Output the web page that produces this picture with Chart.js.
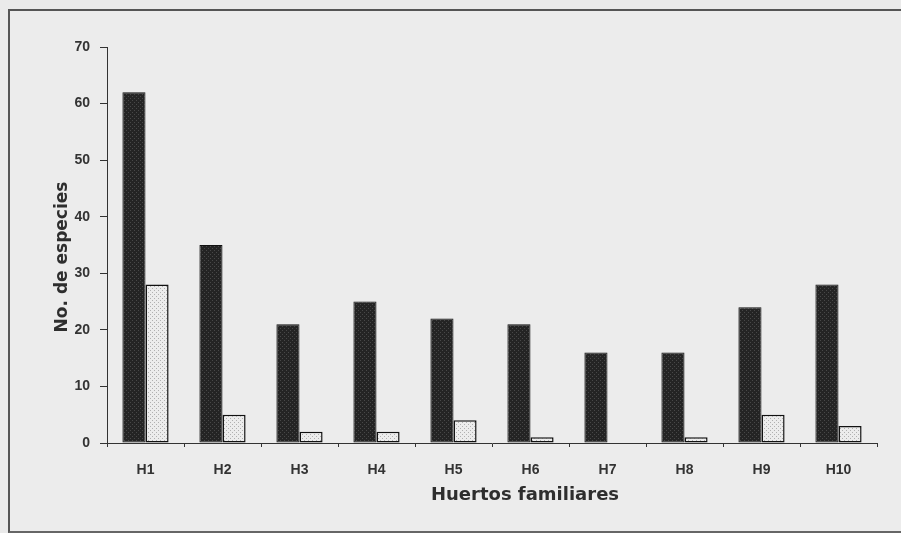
<!DOCTYPE html>
<html>
<head>
<meta charset="utf-8">
<script src="https://cdn.jsdelivr.net/npm/chart.js@4.4.1/dist/chart.umd.min.js"></script>
<style>
  html, body { margin: 0; padding: 0; background: #eaeaea; }
  #wrap { position: relative; width: 901px; height: 533px; overflow: hidden; }
  #frame { position: absolute; left: 8px; top: 9px; width: 1000px; height: 520px;
           border-left: 2px solid #555; border-top: 2px solid #555; border-bottom: 2px solid #666;
           background: #ececec; }
  canvas { position: absolute; left: 0; top: 0; }
</style>
</head>
<body>
<div id="wrap">
  <div id="frame"></div>
  <canvas id="c" width="901" height="533"></canvas>
</div>
<script>
const categories = ['H1', 'H2', 'H3', 'H4', 'H5', 'H6', 'H7', 'H8', 'H9', 'H10'];
const seriesDark = [62, 35, 21, 25, 22, 21, 16, 16, 24, 28];
const seriesLight = [28, 5, 2, 2, 4, 1, 0, 1, 5, 3];
const yMin = 0, yMax = 70, yStep = 10;
const xTitle = 'Huertos familiares';
const yTitle = 'No. de especies';

const canvas = document.getElementById('c');
const ctx = canvas.getContext('2d');

function makePattern(bg, dot) {
  const p = document.createElement('canvas');
  p.width = 4; p.height = 4;
  const g = p.getContext('2d');
  g.fillStyle = bg; g.fillRect(0, 0, 4, 4);
  g.fillStyle = dot; g.fillRect(0, 0, 1, 1); g.fillRect(2, 2, 1, 1);
  return ctx.createPattern(p, 'repeat');
}

const titlePlugin = {
  id: 'axisTitles',
  afterDraw(chart) {
    const a = chart.chartArea;
    const c = chart.ctx;
    c.save();
    c.fillStyle = '#2e2e2e';
    c.textAlign = 'center';
    c.textBaseline = 'middle';
    c.font = 'bold 18px "DejaVu Sans"';
    c.fillText(xTitle, (a.left + a.right) / 2 + 33, a.bottom + 52);
    c.translate(a.left - 44, (a.top + a.bottom) / 2 + 12);
    c.rotate(-Math.PI / 2);
    c.font = 'bold 17px "DejaVu Sans"';
    c.fillText(yTitle, 0, 0);
    c.restore();
  }
};

const tickFont = { family: '"Liberation Sans", Arial, sans-serif', size: 14, weight: 'bold' };

new Chart(ctx, {
  type: 'bar',
  data: {
    labels: categories,
    datasets: [
      { data: seriesDark, backgroundColor: makePattern('#242424', '#484848'),
        borderColor: '#111', borderWidth: 1, borderSkipped: false,
        barPercentage: 1, categoryPercentage: 0.6 },
      { data: seriesLight, backgroundColor: makePattern('#ececec', '#b0b0b0'),
        borderColor: '#111', borderWidth: 1.5, borderSkipped: false,
        barPercentage: 1, categoryPercentage: 0.6 }
    ]
  },
  options: {
    responsive: false,
    animation: false,
    layout: { padding: { left: 0, top: 47, right: 24, bottom: 0 } },
    plugins: { legend: { display: false }, tooltip: { enabled: false } },
    scales: {
      x: {
        grid: { display: true, drawOnChartArea: false, drawTicks: true, tickLength: 4, color: '#333', offset: true },
        border: { display: true, color: '#333', width: 1 },
        ticks: { font: tickFont, color: '#333', padding: 15, maxRotation: 0, autoSkip: false },
        afterFit(s) { s.height = 90; }
      },
      y: {
        min: yMin, max: yMax,
        grid: { display: true, drawOnChartArea: false, drawTicks: true, tickLength: 7, color: '#333' },
        border: { display: true, color: '#333', width: 1 },
        ticks: { stepSize: yStep, font: tickFont, color: '#333', padding: 10 },
        afterFit(s) { s.width = 107; }
      }
    }
  },
  plugins: [titlePlugin]
});
</script>
</body>
</html>
